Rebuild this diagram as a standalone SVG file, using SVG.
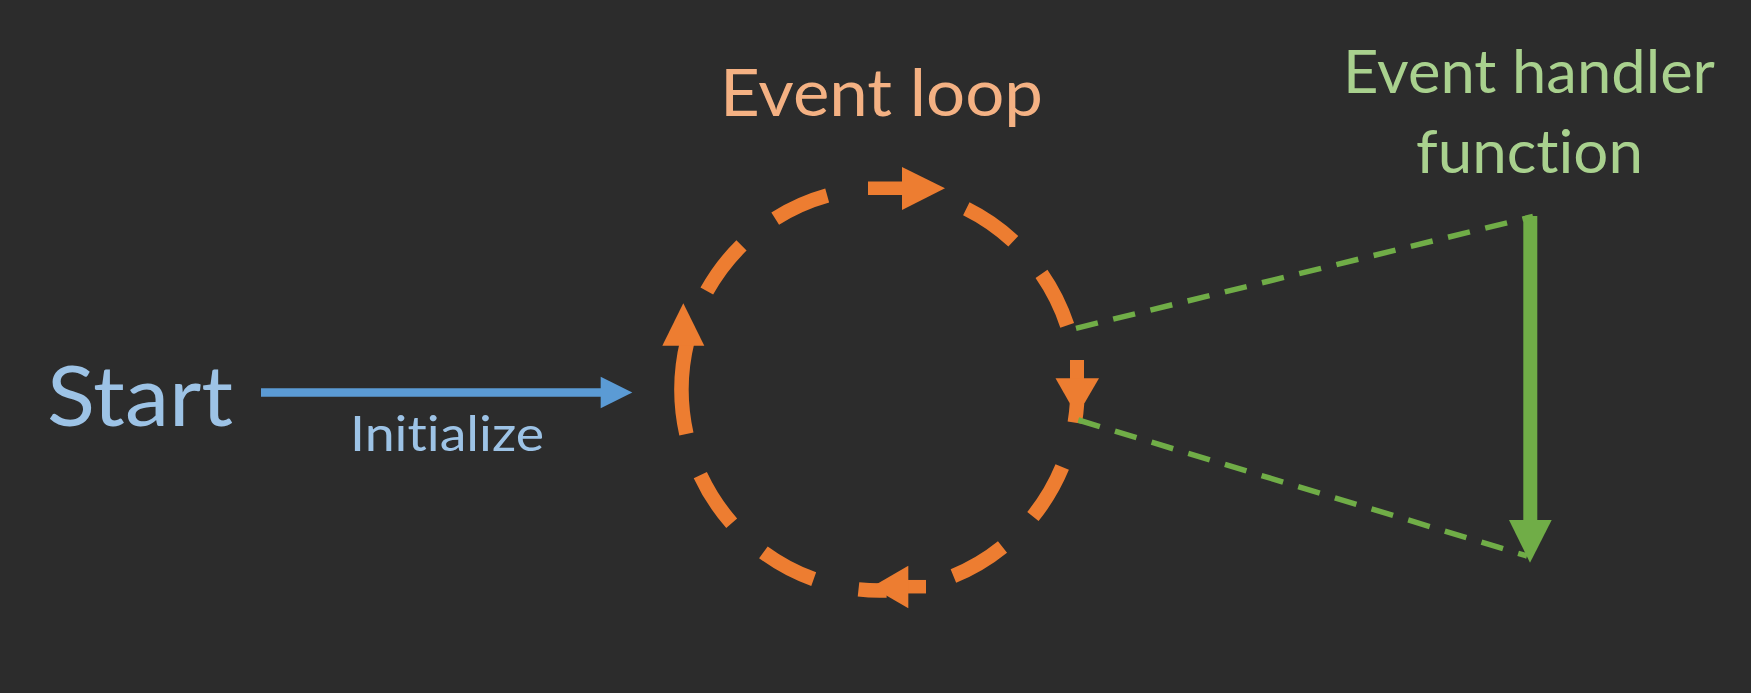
<svg xmlns="http://www.w3.org/2000/svg" width="1751" height="693" viewBox="0 0 1751 693">
  <style>
    .txt { font-family: Lato, "Open Sans", "Liberation Sans", sans-serif; font-weight: 400; font-variant-ligatures: none; font-feature-settings: "liga" 0, "clig" 0; }
    .loop { fill: none; stroke: #ED7D31; stroke-width: 14.5; stroke-linecap: butt; }
    .orange { fill: #ED7D31; }
    .gdash { fill: none; stroke: #70AD47; stroke-width: 5.5; stroke-dasharray: 22.5 15.8; stroke-linecap: butt; }
  </style>
  <rect width="1751" height="693" fill="#2C2C2C"/>

  <g id="start">
    <text class="txt" x="47" y="425.5" font-size="84" fill="#9DC3E6" textLength="186" lengthAdjust="spacingAndGlyphs">Start</text>
  </g>

  <g id="event-loop">
    <text class="txt" x="720" y="116" font-size="65" fill="#F4B183" textLength="323" lengthAdjust="spacingAndGlyphs">Event loop</text>
    <path class="loop" d="M686.4,434.0 A198,201 0 0 1 687.4,340.9
      M706.8,291.1 A198,201 0 0 1 741.5,245.4
      M775.2,218.7 A198,201 0 0 1 827.2,195.6
      M966.3,208.8 A198,201 0 0 1 1013.3,241.3
      M1041.5,273.9 A198,201 0 0 1 1067.2,325.4
      M1077.0,403.5 A198,201 0 0 1 1074.8,422.7
      M1062.2,467.1 A198,201 0 0 1 1032.9,516.5
      M1002.5,547.0 A198,201 0 0 1 953.4,576.0
      M886.4,590.4 A198,201 0 0 1 858.5,589.4
      M813.7,579.1 A198,201 0 0 1 763.4,552.3
      M731.7,523.2 A198,201 0 0 1 700.3,475.1"/>
    <!-- top arrow -->
    <line x1="868" y1="188.3" x2="903" y2="188.3" stroke="#ED7D31" stroke-width="13.5"/>
    <polygon class="orange" points="902,167 945,188.3 902,210"/>
    <!-- right arrow -->
    <line x1="1077" y1="360" x2="1077" y2="380" stroke="#ED7D31" stroke-width="14"/>
    <polygon class="orange" points="1055.5,378.3 1099,378.3 1077,416"/>
    <!-- bottom arrow -->
    <line x1="926" y1="586.7" x2="907" y2="586.7" stroke="#ED7D31" stroke-width="13.5"/>
    <polygon class="orange" points="908.3,565.7 871.7,587 908.3,608.3"/>
    <!-- left arrow -->
    <polygon class="orange" points="662.3,345.7 683.3,303.3 704.3,345.7"/>
  </g>

  <g id="handler">
    <text class="txt" x="1343" y="93.3" font-size="59.5" fill="#A9D18E" textLength="372" lengthAdjust="spacingAndGlyphs">Event handler</text>
    <text class="txt" x="1416" y="173.3" font-size="59.5" fill="#A9D18E" textLength="227" lengthAdjust="spacingAndGlyphs">function</text>
    <line x1="1530.3" y1="216" x2="1530.3" y2="522" stroke="#70AD47" stroke-width="14"/>
    <polygon points="1509,520 1551.7,520 1530,562.7" fill="#70AD47"/>
  </g>

  <g id="connectors">
    <line x1="261" y1="392.5" x2="602" y2="392.5" stroke="#5B9BD5" stroke-width="8.5"/>
    <polygon points="600.7,376.7 632.3,392.5 600.7,408.3" fill="#5B9BD5"/>
    <text class="txt" x="350" y="451" font-size="48" fill="#9DC3E6" textLength="194" lengthAdjust="spacingAndGlyphs">Initialize</text>
    <line class="gdash" x1="1076" y1="328.3" x2="1533" y2="216.5"/>
    <line class="gdash" x1="1078.3" y1="420" x2="1527" y2="556"/>
  </g>
</svg>
